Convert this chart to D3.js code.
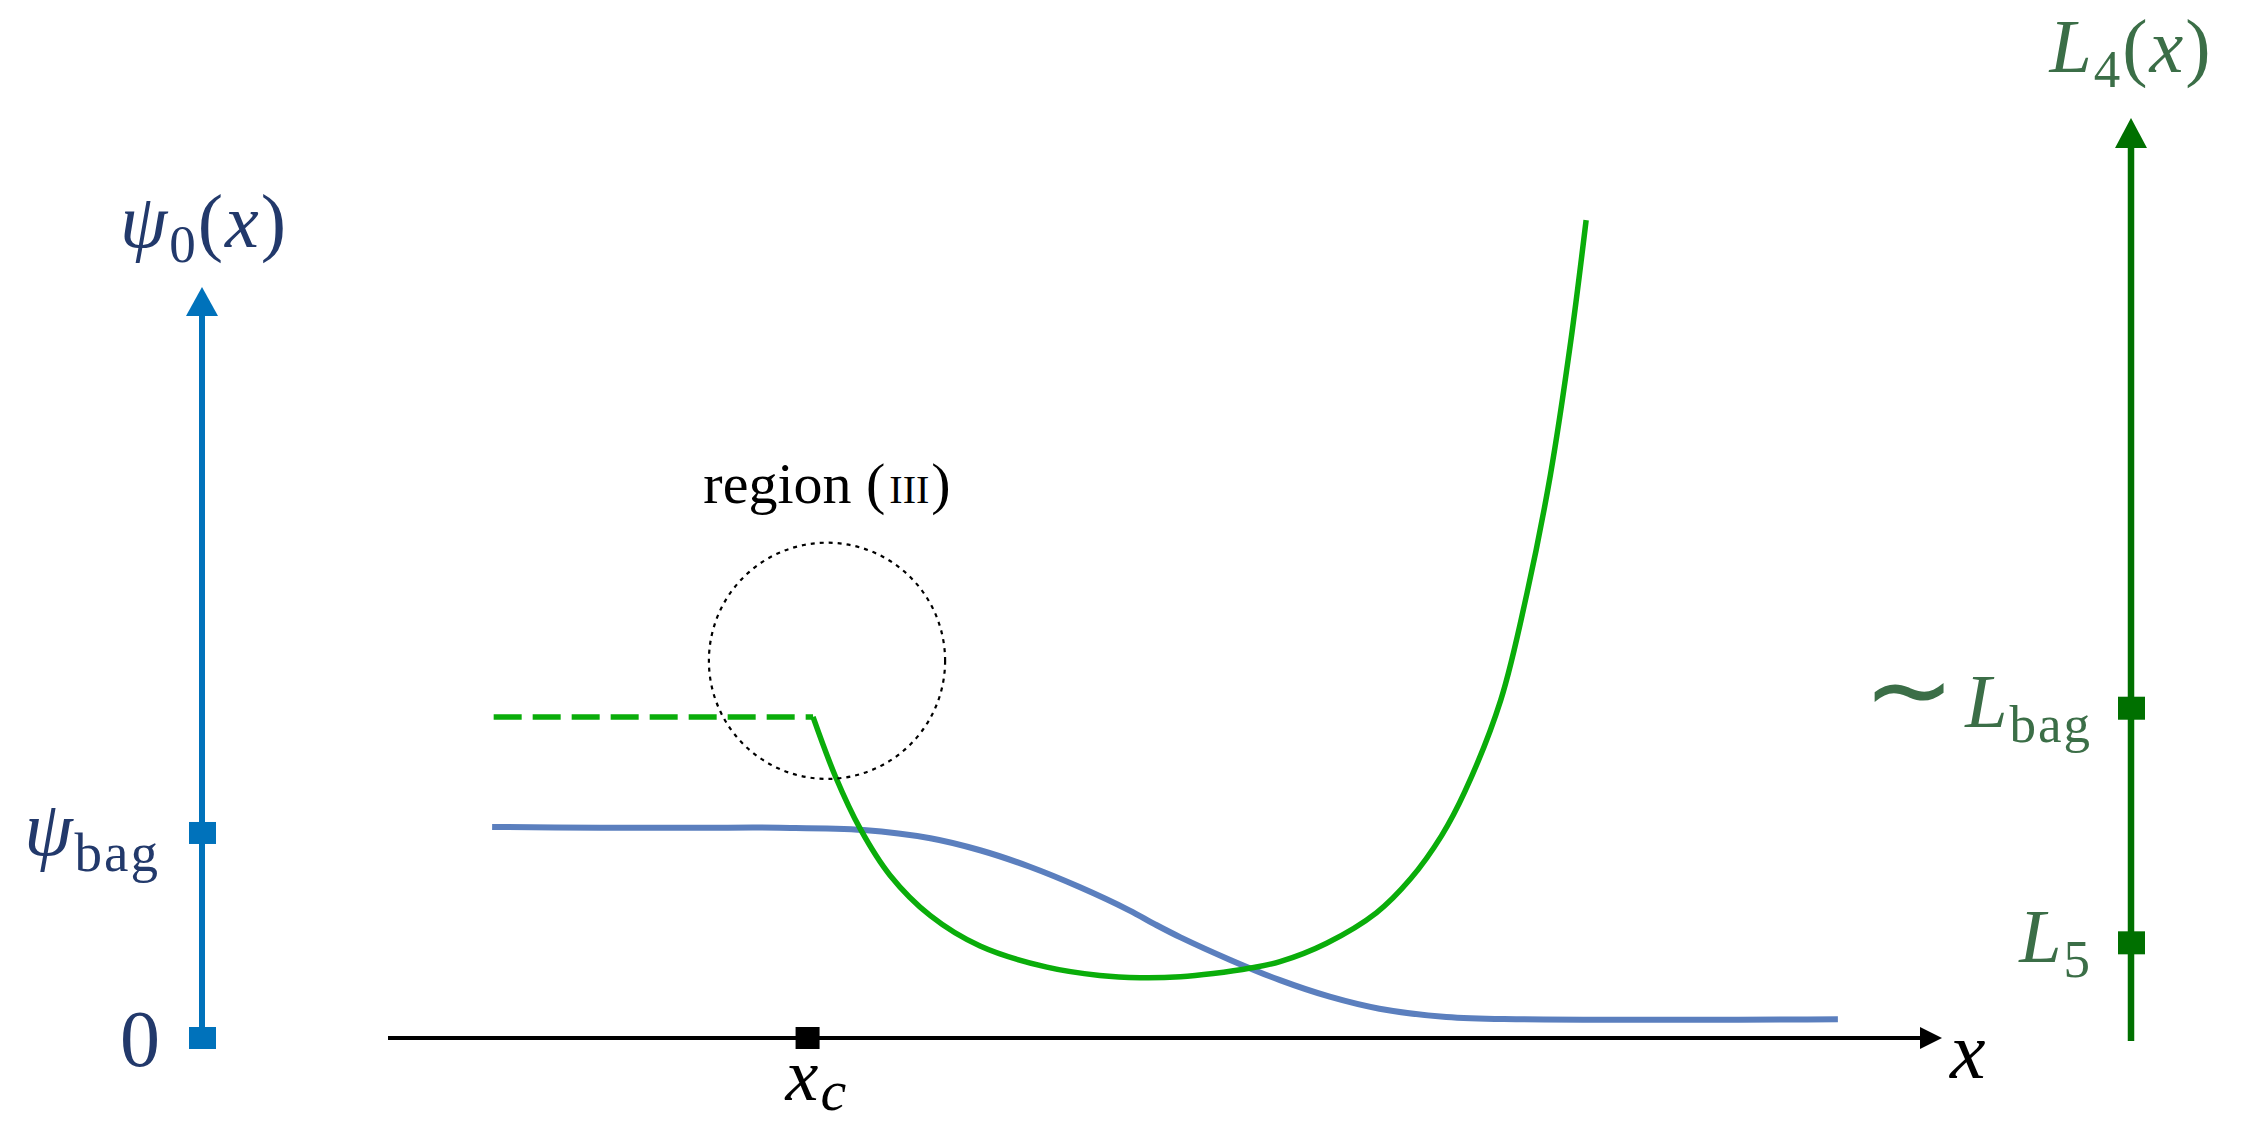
<!DOCTYPE html>
<html>
<head>
<meta charset="utf-8">
<script src="https://cdn.jsdelivr.net/npm/d3@7"></script>
<style>
  body { margin: 0; background: #fff; }
  svg { display: block; }
</style>
</head>
<body>
<div id="chart"></div>
<script>
// ---- data (x in axis units 0..100, psi and L in their own axis units 0..100) ----
var psi_x = [6.7, 13.6, 20.1, 25.2, 30.6, 34.9, 38.1, 41.3, 44.5, 47.7, 49.3, 51.0, 54.2, 57.4, 60.6, 63.8, 68.1, 72.8, 93.3]
var psi_y = [28.1, 28.0, 28.0, 28.0, 27.7, 26.6, 25.0, 22.8, 20.1, 17.0, 15.2, 13.4, 10.4, 7.7, 5.5, 3.9, 2.8, 2.5, 2.5]

var L_x = [27.35, 28.8, 30.4, 32.3, 34.9, 38.1, 42.4, 45.8, 48.4, 51.0, 53.1, 55.5, 57.4, 60.4, 63.6, 65.8, 67.8, 69.3, 71.6, 73.3, 74.8, 76.1, 77.1]
var L_y = [34.9, 28.4, 22.7, 17.7, 13.3, 10.0, 7.7, 6.8, 6.55, 6.65, 7.0, 7.6, 8.3, 10.3, 13.6, 17.3, 22.0, 26.8, 36.7, 48.4, 61.2, 75.6, 88.9]

// dashed continuation of L4 left of x_c
var L_dash_x = [6.8, 27.35]
var L_dash_y = [34.9, 34.9]

var x_ticks = [27.0]
var psi_ticks = [0, 27.3]
var L_ticks = [10.4, 35.9]

// region (III) marker: centre in (x, L) units, radius in x units
var region_center = [28.25, 41.0]
var region_radius = 7.6

// ---- layout ----
var svg_width = 2252
var svg_height = 1123

var svg = d3.select("#chart")
    .append("svg")
    .attr("width", svg_width)
    .attr("height", svg_height)

var x_scale = d3.scaleLinear().domain([0, 100]).range([388, 1942])
var psi_scale = d3.scaleLinear().domain([0, 100]).range([1038, 287])
var L_scale = d3.scaleLinear().domain([0, 100]).range([1038, 118])

var left_x = 202
var right_x = 2131

var navy = "#22396b"
var axis_blue = "#0072bb"
var dark_green = "#007000"
var label_green = "#3b6e47"
var curve_green = "#0aad0a"
var curve_blue = "#5b7fbe"
var font = "'Liberation Serif', 'Times New Roman', serif"

// label built from pieces: {t, it (italic), sub (subscript), size, dx}
function mathLabel(x, y, anchor, color, size, parts, subShift) {
    var t = svg.append("text")
        .attr("x", x)
        .attr("y", y)
        .attr("text-anchor", anchor)
        .style("font-family", font)
        .style("font-size", size + "px")
        .style("letter-spacing", "2px")
        .style("fill", color)
    var shift = subShift == null ? Math.round(size * 0.2) : subShift
    var shifted = 0
    parts.forEach(function(p) {
        var s = t.append("tspan").text(p.t)
        if (p.it) s.style("font-style", "italic")
        var want = p.sub ? shift : 0
        if (want != shifted) { s.attr("dy", want - shifted); shifted = want }
        if (p.sub) s.style("font-size", Math.round(size * 0.7) + "px")
        if (p.size) s.style("font-size", p.size + "px")
        if (p.dx) s.attr("dx", p.dx)
    })
    return t
}

// ---- x axis ----
var x0 = x_scale(0), x1 = x_scale(100), y_axis0 = psi_scale(0)
svg.append("line")
    .attr("x1", x0).attr("x2", x1 - 20)
    .attr("y1", y_axis0).attr("y2", y_axis0)
    .attr("stroke", "#000").attr("stroke-width", 4)
svg.append("path")
    .attr("d", `M${x1},${y_axis0} L${x1 - 22},${y_axis0 - 11} L${x1 - 22},${y_axis0 + 11} Z`)
    .attr("fill", "#000")

svg.selectAll(".xtick")
    .data(x_ticks)
    .enter()
    .append("rect")
    .attr("x", d => x_scale(d) - 12)
    .attr("y", y_axis0 - 11)
    .attr("width", 24).attr("height", 22)
    .attr("fill", "#000")

mathLabel(1950, 1078, "start", "#000", 80, [{t: "x", it: true}])
mathLabel(x_scale(x_ticks[0]) - 22, 1100, "start", "#000", 74, [{t: "x", it: true}, {t: "c", it: true, sub: true, size: 58}], 10)

// ---- left axis (psi_0) ----
var psi_top = psi_scale(100)
svg.append("line")
    .attr("x1", left_x).attr("x2", left_x)
    .attr("y1", psi_scale(0)).attr("y2", psi_top + 28)
    .attr("stroke", axis_blue).attr("stroke-width", 6)
svg.append("path")
    .attr("d", `M${left_x},${psi_top} L${left_x - 16},${psi_top + 29} L${left_x + 16},${psi_top + 29} Z`)
    .attr("fill", axis_blue)
svg.selectAll(".psitick")
    .data(psi_ticks)
    .enter()
    .append("rect")
    .attr("x", left_x - 13)
    .attr("y", d => psi_scale(d) - 11)
    .attr("width", 27).attr("height", 22)
    .attr("fill", axis_blue)

mathLabel(left_x + 2, 247, "middle", navy, 76, [{t: "ψ", it: true}, {t: "0", sub: true}, {t: "("}, {t: "x", it: true}, {t: ")"}])
mathLabel(162, psi_scale(psi_ticks[0]) + 28, "end", navy, 80, [{t: "0"}])
mathLabel(160, psi_scale(psi_ticks[1]) + 22, "end", navy, 78, [{t: "ψ", it: true}, {t: "bag", sub: true}])

// ---- right axis (L_4) ----
var L_top = L_scale(100)
svg.append("line")
    .attr("x1", right_x).attr("x2", right_x)
    .attr("y1", L_scale(0) + 3).attr("y2", L_top + 28)
    .attr("stroke", dark_green).attr("stroke-width", 6.5)
svg.append("path")
    .attr("d", `M${right_x},${L_top} L${right_x - 16},${L_top + 30} L${right_x + 16},${L_top + 30} Z`)
    .attr("fill", dark_green)
svg.selectAll(".Ltick")
    .data(L_ticks)
    .enter()
    .append("rect")
    .attr("x", right_x - 13)
    .attr("y", d => L_scale(d) - 11)
    .attr("width", 27).attr("height", 23)
    .attr("fill", dark_green)

mathLabel(right_x, 72, "middle", label_green, 76, [{t: "L", it: true}, {t: "4", sub: true}, {t: "("}, {t: "x", it: true}, {t: ")"}])
mathLabel(2092, L_scale(L_ticks[0]) + 20, "end", label_green, 76, [{t: "L", it: true}, {t: "5", sub: true}])
mathLabel(2092, L_scale(L_ticks[1]) + 19, "end", label_green, 76, [{t: "∼", size: 110}, {t: "L", it: true, dx: 8}, {t: "bag", sub: true}])

// ---- curves ----
var psi_line = d3.line()
    .x(d => x_scale(d[0]))
    .y(d => psi_scale(d[1]))
    .curve(d3.curveCatmullRom.alpha(0.5))
var L_line = d3.line()
    .x(d => x_scale(d[0]))
    .y(d => L_scale(d[1]))
    .curve(d3.curveCatmullRom.alpha(0.5))

svg.append("path")
    .datum(psi_x.map((v, i) => [v, psi_y[i]]))
    .attr("d", psi_line)
    .attr("fill", "none")
    .attr("stroke", curve_blue)
    .attr("stroke-width", 6)

svg.append("path")
    .datum(L_dash_x.map((v, i) => [v, L_dash_y[i]]))
    .attr("d", d3.line().x(d => x_scale(d[0])).y(d => L_scale(d[1])))
    .attr("fill", "none")
    .attr("stroke", curve_green)
    .attr("stroke-width", 5.5)
    .attr("stroke-dasharray", "28,11")

svg.append("path")
    .datum(L_x.map((v, i) => [v, L_y[i]]))
    .attr("d", L_line)
    .attr("fill", "none")
    .attr("stroke", curve_green)
    .attr("stroke-width", 5.5)
    .attr("stroke-linejoin", "round")

// ---- region (III) ----
var cx = x_scale(region_center[0]), cy = L_scale(region_center[1])
svg.append("circle")
    .attr("cx", cx).attr("cy", cy)
    .attr("r", x_scale(region_radius) - x_scale(0))
    .attr("fill", "none")
    .attr("stroke", "#000")
    .attr("stroke-width", 2.2)
    .attr("stroke-dasharray", "4,5")

var region = svg.append("text")
    .attr("x", cx)
    .attr("y", cy - 158)
    .attr("text-anchor", "middle")
    .style("font-family", font)
    .style("font-size", "58px")
    .style("fill", "#000")
region.append("tspan").text("region (")
region.append("tspan").text("III").style("font-size", "40px").attr("dx", 4)
region.append("tspan").text(")").attr("dx", 2)
</script>
</body>
</html>
